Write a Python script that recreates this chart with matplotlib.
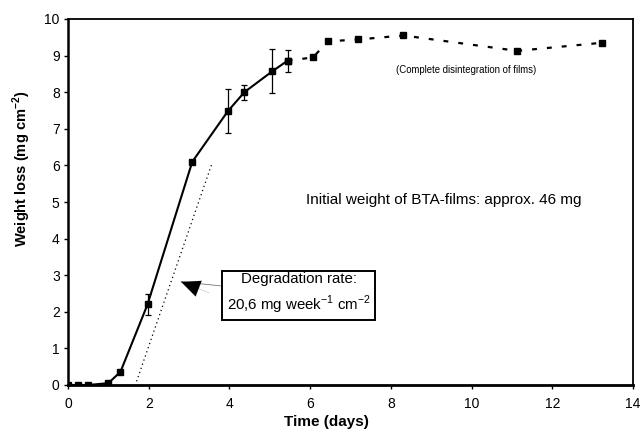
import matplotlib
matplotlib.use("Agg")
import matplotlib.pyplot as plt
import numpy as np

plt.rcParams['font.family'] = ['Liberation Sans', 'DejaVu Sans']
plt.rcParams['mathtext.fontset'] = 'custom'
plt.rcParams['mathtext.rm'] = 'Liberation Sans'
plt.rcParams['mathtext.bf'] = 'Liberation Sans:bold'

# Measured part (solid line with error bars)
t_solid = [0.0, 0.25, 0.5, 1.0, 1.3, 1.97, 3.08, 3.96, 4.37, 5.06, 5.44]
w_solid = [0.0, 0.0, 0.0, 0.05, 0.36, 2.2, 6.1, 7.48, 8.0, 8.57, 8.86]
err_solid = [0.0, 0.0, 0.0, 0.0, 0.0, 0.3, 0.0, 0.6, 0.2, 0.6, 0.3]

# Disintegration part (dashed)
t_dash = [5.44, 6.07, 6.44, 7.19, 8.31, 11.13, 13.23]
w_dash = [8.86, 8.95, 9.39, 9.44, 9.55, 9.13, 9.35]

# Degradation-rate line endpoints
t_rate = [1.7, 3.56]
w_rate = [0.1, 6.03]

fig = plt.figure(figsize=(6.42, 4.43), dpi=100)
ax = fig.add_axes([68/642, 58/443, 565/642, 366/443])

ax.plot(t_rate, w_rate, color='black', lw=0.9, ls=(0, (1, 2.5)))
ax.plot(t_dash, w_dash, color='black', lw=1.6, ls=(0, (2.2, 4.5)), marker='s', ms=4.5)
ax.errorbar(t_solid, w_solid, yerr=err_solid, color='black', lw=1.5, marker='s', ms=4.5,
            ecolor='black', elinewidth=0.9, capsize=2.5, capthick=0.9)

ax.set_xlim(0, 14)
ax.set_ylim(0, 10)
ax.set_xticks(range(0, 15, 2))
ax.set_yticks(range(0, 11))
ax.tick_params(axis='x', length=3, width=1, labelsize=10, direction='out', pad=6)
ax.tick_params(axis='y', length=3, width=1, labelsize=10, direction='out', pad=3)
for s in ax.spines.values():
    s.set_linewidth(1.3)
ax.spines['bottom'].set_linewidth(2.0)
ax.spines['left'].set_linewidth(1.8)

ax.set_xlabel('Time (days)', fontsize=11, fontweight='bold', labelpad=3)
ax.xaxis.set_label_coords(0.457, -0.083)
ax.set_ylabel('Weight loss (mg cm$^{\\mathbf{-2}}$)', fontsize=10.5, fontweight='bold')
ax.yaxis.set_label_coords(-0.062, 0.59)

ax.text(9.32, 5.06, 'Initial weight of BTA-films: approx. 46 mg', fontsize=11, ha='center', va='center')
ax.text(9.86, 8.62, '(Complete disintegration of films)', fontsize=6.9, ha='center', va='center')

# Grey connector line from the box to the arrow tip
ax.annotate('Degradation rate:\n20,6 mg week$^{-1}$ cm$^{-2}$', xy=(2.8, 2.82), xytext=(5.72, 2.49),
            fontsize=10.8, ha='center', va='center', linespacing=1.45,
            bbox=dict(boxstyle='square,pad=0.3', fc='white', ec='black', lw=1.4),
            arrowprops=dict(arrowstyle='-', color='#777777', lw=0.6, shrinkA=0, shrinkB=0))
# Black arrowhead
ax.annotate('', xy=(2.8, 2.82), xytext=(3.5, 2.52),
            arrowprops=dict(arrowstyle='-|>,head_length=1.35,head_width=0.6', color='black',
                            lw=0.1, shrinkA=0, shrinkB=0))

fig.savefig('out.png', dpi=100)
